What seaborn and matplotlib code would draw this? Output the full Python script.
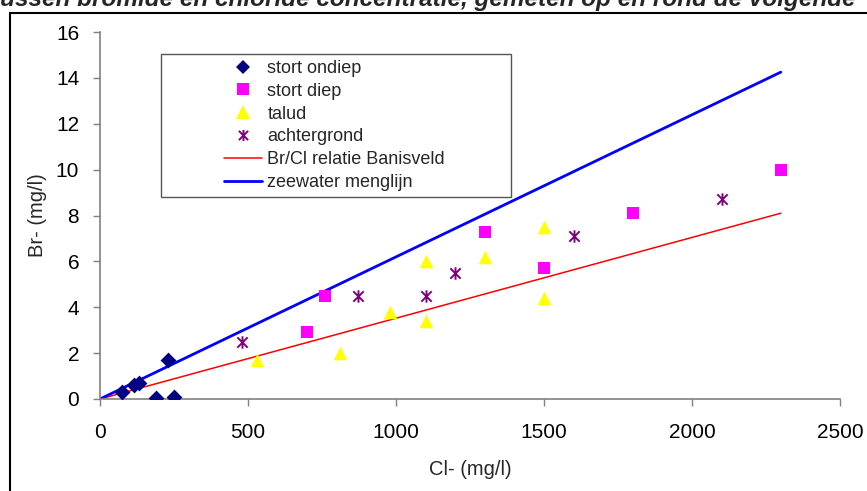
import numpy as np
import pandas as pd
import matplotlib
matplotlib.use("Agg")
import matplotlib.pyplot as plt
from matplotlib.path import Path
from matplotlib.lines import Line2D
from matplotlib.patches import Rectangle
import seaborn as sns

# --- data ---
ondiep_cl = [75, 115, 132, 190, 230, 250]
ondiep_br = [0.3, 0.6, 0.7, 0.03, 1.7, 0.1]

diep_cl = [700, 760, 1300, 1500, 1800, 2300]
diep_br = [2.9, 4.5, 7.3, 5.7, 8.1, 10.0]

talud_cl = [530, 810, 980, 1100, 1100, 1300, 1500, 1500]
talud_br = [1.7, 2.0, 3.8, 3.4, 6.0, 6.2, 7.5, 4.4]

achter_cl = [480, 870, 1100, 1200, 1600, 2100]
achter_br = [2.5, 4.5, 4.5, 5.5, 7.1, 8.7]

line_cl = [0, 2300]
banisveld_br = [0, 8.1]
zeewater_br = [0, 14.25]

x_ticks = [0, 500, 1000, 1500, 2000, 2500]
y_ticks = [0, 2, 4, 6, 8, 10, 12, 14, 16]

sns.set_style("white")
plt.rcParams['font.family'] = ['Liberation Sans', 'DejaVu Sans']

# excel style star: x with a vertical bar
star = Path([(-1, -1), (1, 1), (-1, 1), (1, -1), (0, -1.2), (0, 1.2)],
            [Path.MOVETO, Path.LINETO, Path.MOVETO, Path.LINETO, Path.MOVETO, Path.LINETO])

fig = plt.figure(figsize=(8.67, 4.91), dpi=100)
ax = fig.add_axes([100 / 867, 1 - 399 / 491, 740 / 867, 367 / 491])

# lines first so markers sit on top
sns.lineplot(x=line_cl, y=banisveld_br, color='#FF0000', linewidth=1.1, ax=ax)
sns.lineplot(x=line_cl, y=zeewater_br, color='#0000FF', linewidth=2.0, ax=ax)

sns.scatterplot(x=ondiep_cl, y=ondiep_br, marker='D', color='#000080', s=65, linewidth=0, ax=ax, zorder=3)
sns.scatterplot(x=diep_cl, y=diep_br, marker='s', color='#FF00FF', s=80, linewidth=0, ax=ax, zorder=3)
sns.scatterplot(x=talud_cl, y=talud_br, marker='^', color='#FFFF00', s=95, linewidth=0, ax=ax, zorder=3)
sns.scatterplot(x=achter_cl, y=achter_br, marker=star, color='#800080', edgecolor='#800080',
                s=80, linewidth=1.4, ax=ax, zorder=3)

ax.set_xlim(0, 2500)
ax.set_ylim(0, 16)
ax.set_xticks(x_ticks)
ax.set_yticks(y_ticks)
ax.tick_params(axis='both', direction='out', length=5, width=1, color='#808080',
               labelsize=15, labelcolor='black', pad=10, left=True, bottom=True)
ax.tick_params(axis='x', pad=12)
for side in ['top', 'right']:
    ax.spines[side].set_visible(False)
for side in ['left', 'bottom']:
    ax.spines[side].set_color('#808080')
    ax.spines[side].set_linewidth(1.2)

ax.set_xlabel('Cl- (mg/l)', fontsize=14.5, labelpad=13)
ax.set_ylabel('Br- (mg/l)', fontsize=14.5, labelpad=6)

# legend: drawn without frame, box added by hand (Excel style wide box)
handles = [
    Line2D([], [], linestyle='none', marker='D', color='#000080', markersize=7.5, markeredgewidth=0),
    Line2D([], [], linestyle='none', marker='s', color='#FF00FF', markersize=8.5, markeredgewidth=0),
    Line2D([], [], linestyle='none', marker='^', color='#FFFF00', markersize=9.5, markeredgewidth=0),
    Line2D([], [], linestyle='none', marker=star, color='#800080', markersize=8, markeredgewidth=1.4),
    Line2D([], [], color='#FF0000', linewidth=1.1),
    Line2D([], [], color='#0000FF', linewidth=2.0),
]
labels = ['stort ondiep', 'stort diep', 'talud', 'achtergrond',
          'Br/Cl relatie Banisveld', 'zeewater menglijn']
ax.legend(handles, labels, loc='upper left', bbox_to_anchor=((224 - 100) / 740, (399 - 60) / 367),
          frameon=False, fontsize=13, handlelength=2.1, handletextpad=0.3,
          labelspacing=0.32, borderpad=0, borderaxespad=0)
ax.add_patch(Rectangle(((161 - 100) / 740, (399 - 197) / 367), 350 / 740, 143 / 367,
                       transform=ax.transAxes, fill=False, edgecolor='#555555',
                       linewidth=1.0, zorder=2, clip_on=False))

# outer chart border and clipped title above it (cut off in the original as well)
fig.patches.append(Rectangle((10 / 867, -0.5), 2, 1.5 - 13 / 491, transform=fig.transFigure,
                             fill=False, edgecolor='black', linewidth=1.5))
fig.text(-8 / 867, 1 - 6 / 491,
         'tussen bromide en chloride concentratie, gemeten op en rond de volgende',
         fontsize=17.5, fontweight='bold', fontstyle='italic', ha='left', va='baseline')

fig.savefig('out.png', dpi=100)
